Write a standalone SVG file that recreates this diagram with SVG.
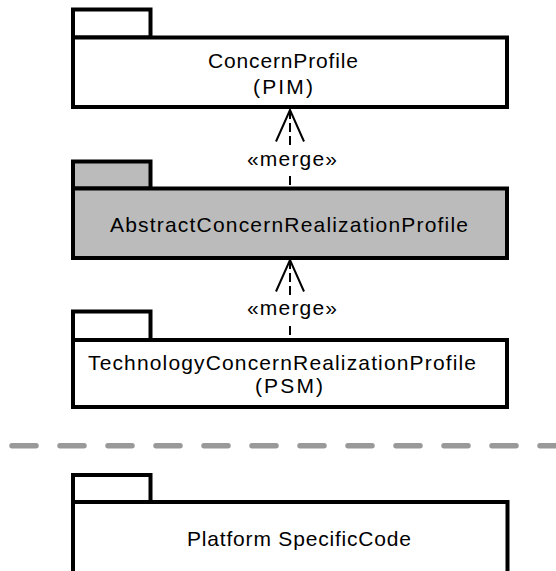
<svg xmlns="http://www.w3.org/2000/svg" width="556" height="571" viewBox="0 0 556 571">
<style>
.box{fill:#fff;stroke:#000;stroke-width:4}
.gray{fill:#bbbbbb}
.t{font-family:"Liberation Sans",Arial,sans-serif;font-size:21px;fill:#000}
.dep{fill:none;stroke:#000;stroke-width:2;stroke-dasharray:9 4}
.head{fill:none;stroke:#000;stroke-width:2}
</style>
<rect width="556" height="571" fill="#fff"/>
<g id="concernProfile">
<rect class="box" x="73" y="9.5" width="77.5" height="28"/>
<rect class="box" x="73" y="37.5" width="434" height="69.5"/>
<text class="t" x="208" y="68" textLength="150" lengthAdjust="spacing">ConcernProfile</text>
<text class="t" x="253" y="94" textLength="60" lengthAdjust="spacing">(PIM)</text>
</g>
<g id="abstractProfile">
<rect class="box gray" x="73" y="161.5" width="77.5" height="27"/>
<rect class="box gray" x="73" y="188.5" width="434" height="69.5"/>
<text class="t" x="110" y="232" textLength="358" lengthAdjust="spacing">AbstractConcernRealizationProfile</text>
</g>
<g id="technologyProfile">
<rect class="box" x="73" y="311.5" width="77.5" height="28.5"/>
<rect class="box" x="73" y="340" width="434" height="67"/>
<text class="t" x="88" y="370" textLength="388" lengthAdjust="spacing">TechnologyConcernRealizationProfile</text>
<text class="t" x="255" y="393" textLength="68" lengthAdjust="spacing">(PSM)</text>
</g>
<g id="separator">
<line x1="12" y1="445.7" x2="556" y2="445.7" stroke="#999" stroke-width="5.5" stroke-linecap="round" stroke-dasharray="24 24"/>
</g>
<g id="platformCode">
<rect class="box" x="73" y="475" width="77.5" height="27"/>
<rect class="box" x="73" y="502" width="434.5" height="80"/>
<text class="t" x="187" y="546" textLength="224" lengthAdjust="spacing">Platform SpecificCode</text>
</g>
<g id="connectors">
<path class="dep" d="M290 110 V146 M290 176 V187"/>
<path class="head" d="M276 141.5 L290 110 L304 141.5"/>
<text class="t" x="247" y="165.5" textLength="90" lengthAdjust="spacing">«merge»</text>
<path class="dep" d="M290 260 V296 M290 326 V338"/>
<path class="head" d="M276 291.5 L290 260 L304 291.5"/>
<text class="t" x="247" y="315" textLength="90" lengthAdjust="spacing">«merge»</text>
</g>
</svg>
